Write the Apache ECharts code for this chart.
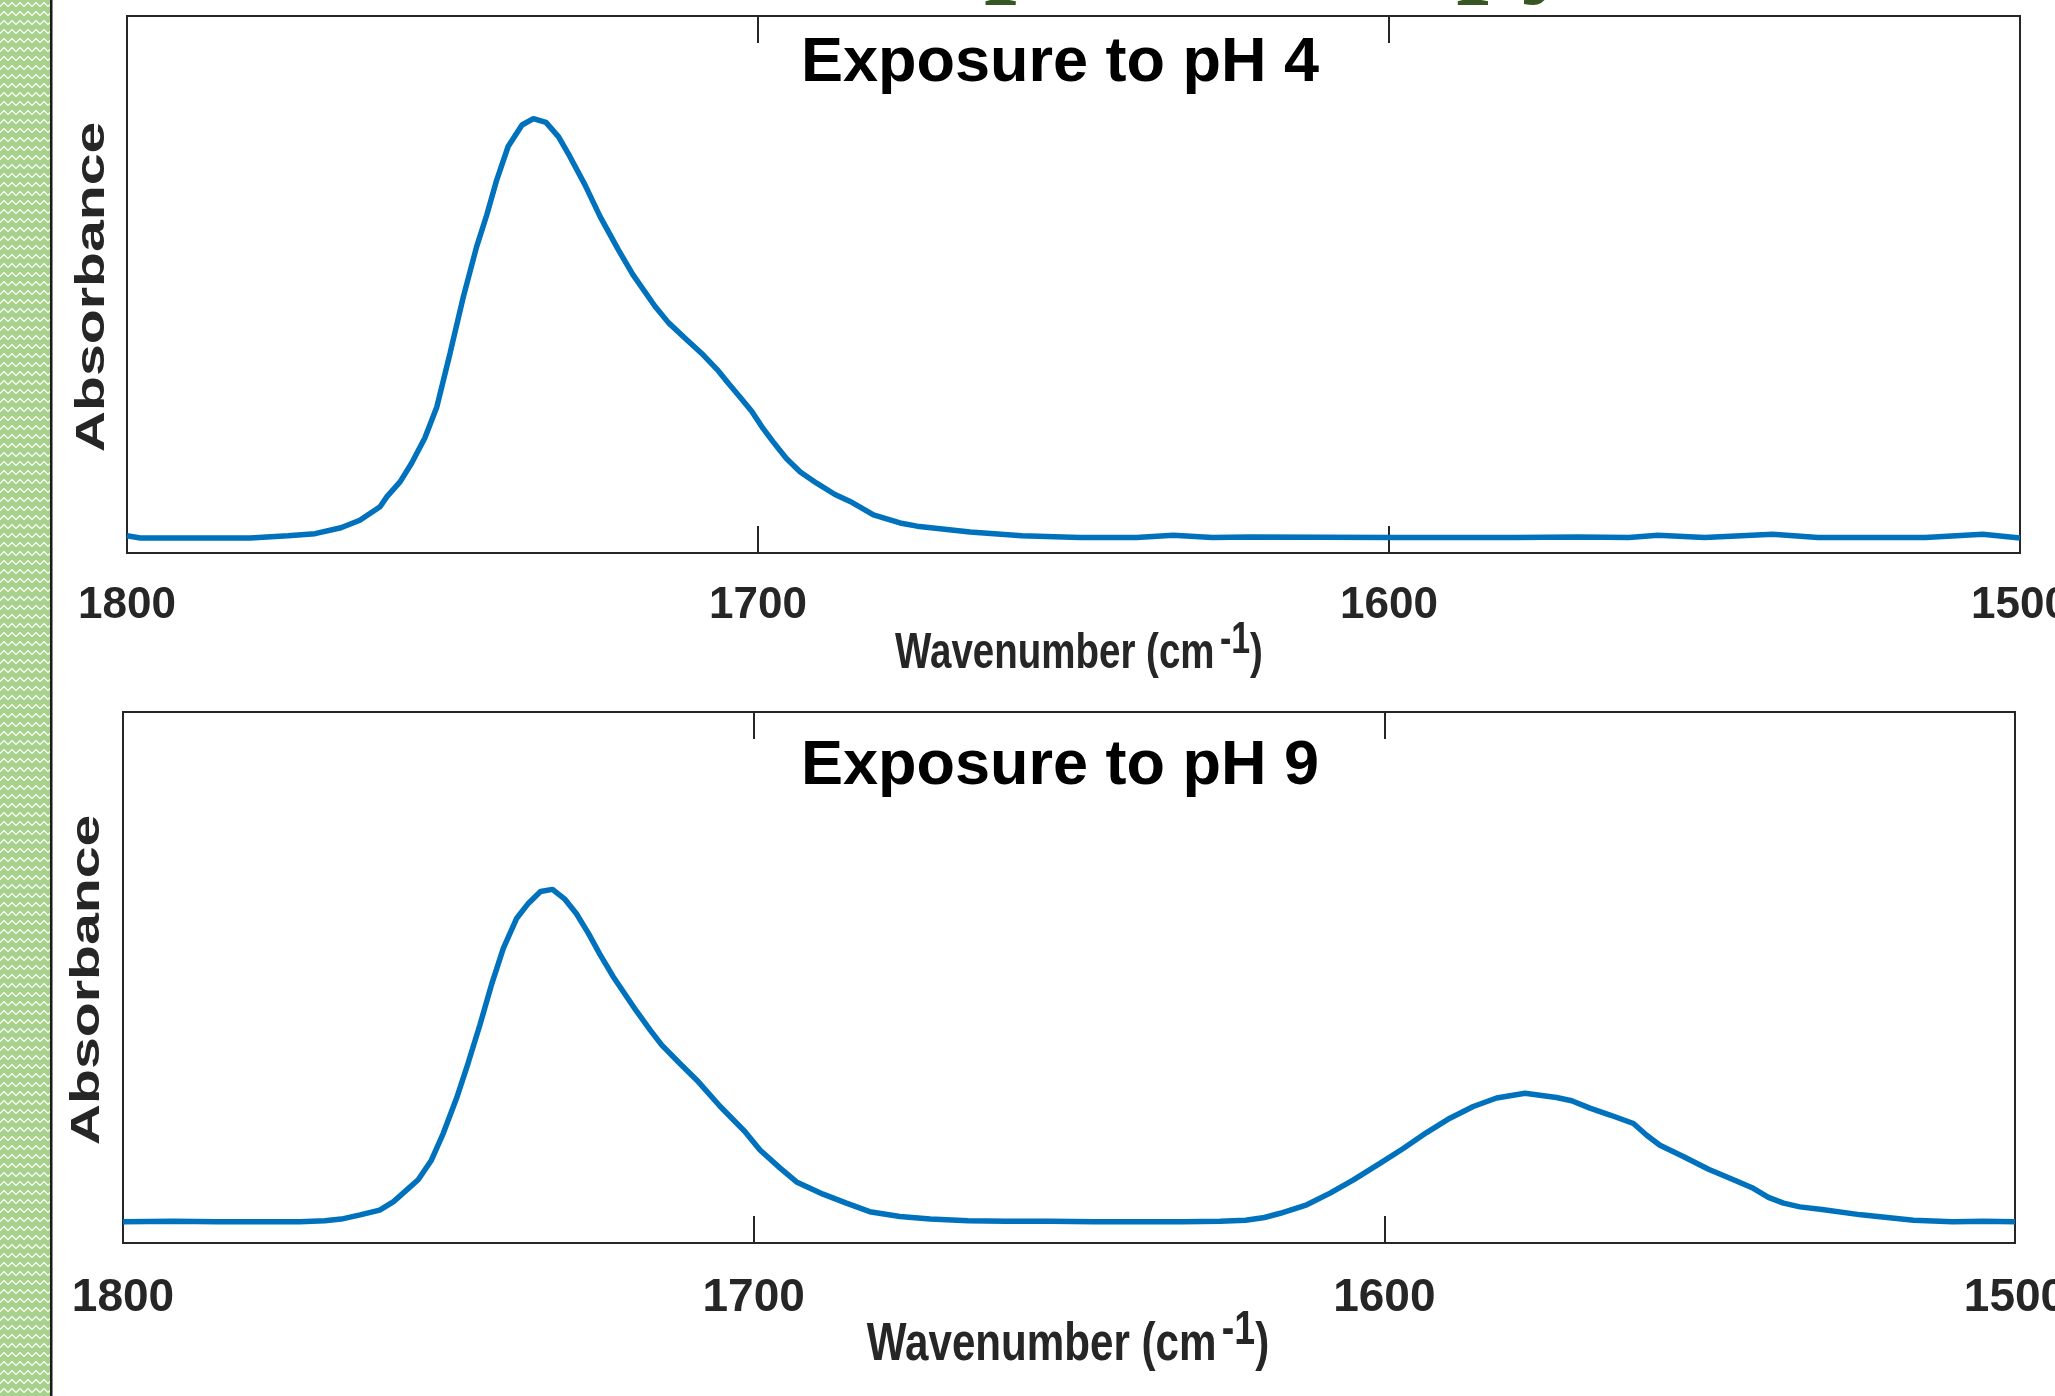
<!DOCTYPE html>
<html>
<head>
<meta charset="utf-8">
<script src="https://cdn.jsdelivr.net/npm/echarts@6/dist/echarts.min.js"></script>
<style>
html,body{margin:0;padding:0;background:#fff;overflow:hidden}
#chart{width:2055px;height:1396px}
</style>
</head>
<body>
<div id="chart"></div>
<script>
// ---------- data ----------
const xTickValues = [1800, 1700, 1600, 1500];
const panelTitles = ['Exposure to pH 4', 'Exposure to pH 9'];
const xAxisNameParts = ['Wavenumber (cm', '-1', ')'];
const yAxisName = 'Absorbance';
const slideHeadingFragment = 'Spectroscopy,';

const ph4Wavenumber = [1800, 1797.9, 1788.4, 1780.5, 1774.5, 1770.2, 1766.1, 1763.1, 1759.9, 1758.8,
  1756.7, 1754.9, 1752.8, 1750.9, 1748.8, 1746.7, 1744.6, 1743.0, 1741.4, 1739.6,
  1737.4, 1735.6, 1733.6, 1731.6, 1729.8, 1727.4, 1725.0, 1722.1, 1719.8, 1716.3,
  1714.2, 1711.3, 1708.7, 1706.5, 1704.7, 1702.9, 1701.0, 1699.2, 1697.6, 1695.5,
  1693.3, 1690.7, 1687.8, 1685.4, 1681.7, 1677.5, 1674.8, 1666.4, 1658.2, 1649,
  1640, 1634.2, 1628, 1622, 1600, 1580, 1570, 1562, 1557.4, 1550,
  1539.2, 1532, 1515, 1505.9, 1500];
const ph4Absorbance = [0.032, 0.028, 0.028, 0.028, 0.032, 0.036, 0.047, 0.061, 0.086, 0.105,
  0.133, 0.167, 0.214, 0.272, 0.372, 0.477, 0.570, 0.629, 0.695, 0.757,
  0.797, 0.809, 0.802, 0.775, 0.738, 0.685, 0.626, 0.564, 0.518, 0.459,
  0.429, 0.397, 0.369, 0.342, 0.316, 0.291, 0.264, 0.232, 0.207, 0.176,
  0.151, 0.130, 0.109, 0.096, 0.071, 0.056, 0.050, 0.039, 0.032, 0.029,
  0.029, 0.033, 0.029, 0.030, 0.029, 0.029, 0.030, 0.029, 0.033, 0.029,
  0.035, 0.029, 0.029, 0.035, 0.028];

const ph9Wavenumber = [1800, 1792, 1785, 1778, 1772, 1768, 1765.4, 1762.4, 1759.3, 1757.1,
  1755.0, 1753.2, 1751.1, 1749.2, 1747.1, 1745.3, 1743.4, 1741.5, 1739.7, 1737.6,
  1735.7, 1733.8, 1731.9, 1729.9, 1728.1, 1726.2, 1724.4, 1722.3, 1718.6, 1716.4,
  1714.6, 1711.7, 1708.8, 1705.3, 1701.4, 1699.0, 1695.8, 1693.2, 1689.0, 1685.3,
  1681.6, 1676.8, 1672, 1666, 1660, 1653, 1646, 1640, 1632, 1626,
  1622, 1619, 1616.5, 1612.3, 1608.6, 1604.9, 1600.7, 1597.0, 1593.3, 1589.6,
  1585.9, 1582.2, 1577.7, 1572.7, 1570.3, 1567.4, 1564.2, 1560.5, 1558.4, 1556.3,
  1552.6, 1548.6, 1545.2, 1541.5, 1539.1, 1536.7, 1534.1, 1530.6, 1524.4, 1516.1,
  1509.9, 1505, 1500];
const ph9Absorbance = [0.040, 0.041, 0.040, 0.040, 0.040, 0.042, 0.045, 0.053, 0.062, 0.078,
  0.100, 0.119, 0.156, 0.207, 0.273, 0.338, 0.411, 0.489, 0.555, 0.611,
  0.640, 0.662, 0.666, 0.647, 0.620, 0.583, 0.544, 0.502, 0.437, 0.401,
  0.373, 0.338, 0.304, 0.257, 0.210, 0.175, 0.141, 0.115, 0.092, 0.075,
  0.059, 0.050, 0.045, 0.042, 0.041, 0.041, 0.040, 0.040, 0.040, 0.041,
  0.043, 0.048, 0.056, 0.072, 0.094, 0.119, 0.150, 0.178, 0.208, 0.235,
  0.257, 0.273, 0.282, 0.274, 0.268, 0.254, 0.241, 0.225, 0.203, 0.184,
  0.163, 0.139, 0.122, 0.103, 0.086, 0.075, 0.068, 0.063, 0.053, 0.043,
  0.040, 0.041, 0.040];

// ---------- styling ----------
const AXIS_COLOR = '#262626';
const LINE_COLOR = '#0072BD';
const SANS = '"Liberation Sans", Arial, sans-serif';

const xMin = Math.min(...xTickValues);
const xMax = Math.max(...xTickValues);
const xStep = Math.abs(xTickValues[0] - xTickValues[1]);

// pattern tile for the decorative left strip
const tile = document.createElement('canvas');
tile.width = 8; tile.height = 9;
const tc = tile.getContext('2d');
tc.fillStyle = '#a9d18e';
tc.fillRect(0, 0, 8, 9);
tc.strokeStyle = '#ffffff';
tc.lineWidth = 1.1;
tc.beginPath();
tc.moveTo(0, 6.5); tc.lineTo(4, 2.5); tc.lineTo(8, 6.5);
tc.stroke();

const grids = [
  {left: 127, top: 16, width: 1893, height: 537},
  {left: 123, top: 712, width: 1892, height: 531}
];
const tickFont = [44, 46];
const labelMargins = [31, 32];
const titleTops = [32, 735];
const yNamePos = [[93, 287], [88, 980]];
// x-axis name: [centre x, centre y of main text, font size, horizontal squeeze]
const xNameLayout = [[1079, 654, 50, 0.77], [1068, 1345, 54, 0.78]];

function bottomAxis(g) {
  return {
    gridIndex: g, type: 'value', min: xMin, max: xMax, interval: xStep, inverse: true,
    position: 'bottom',
    axisLine: {show: false},
    axisTick: {show: true, inside: true, length: 27, lineStyle: {color: AXIS_COLOR, width: 2}},
    splitLine: {show: false},
    axisLabel: {
      margin: labelMargins[g], fontFamily: SANS, fontWeight: 'bold', fontSize: tickFont[g], color: AXIS_COLOR,
      formatter: v => String(v)
    }
  };
}
function topAxis(g) {
  return {
    gridIndex: g, type: 'value', min: xMin, max: xMax, interval: xStep, inverse: true,
    position: 'top',
    axisLine: {show: false},
    axisTick: {show: true, inside: true, length: 27, lineStyle: {color: AXIS_COLOR, width: 2}},
    splitLine: {show: false},
    axisLabel: {show: false}
  };
}

function xNameGraphic(L) {
  const fs = L[2];
  const supFs = Math.round(fs * 0.88);
  const pad = Math.round(fs * 0.32);
  const lineH = Math.max(fs, supFs + pad);
  const centreY = L[1] - (lineH / 2 - fs / 2);
  return {
    type: 'text', silent: true, x: L[0], y: centreY, scaleX: L[3],
    style: {
      text: '{m|' + xAxisNameParts[0] + '}{s|' + xAxisNameParts[1] + '}{m|' + xAxisNameParts[2] + '}',
      align: 'center', verticalAlign: 'middle',
      rich: {
        m: {fontFamily: SANS, fontWeight: 'bold', fontSize: fs, fill: AXIS_COLOR, verticalAlign: 'bottom'},
        s: {fontFamily: SANS, fontWeight: 'bold', fontSize: supFs, fill: AXIS_COLOR, verticalAlign: 'bottom', padding: [0, 0, pad, 7]}
      }
    }
  };
}

const chart = echarts.init(document.getElementById('chart'), null, {renderer: 'canvas'});
chart.setOption({
  animation: false,
  backgroundColor: '#ffffff',
  title: panelTitles.map((t, i) => ({
    text: t, left: 801, top: titleTops[i], padding: 0,
    textStyle: {fontFamily: SANS, fontWeight: 'bold', fontSize: 63, color: '#000000'}
  })),
  grid: grids.map(g => Object.assign({
    show: true, borderColor: AXIS_COLOR, borderWidth: 2, backgroundColor: 'rgba(0,0,0,0)',
    containLabel: false, outerBoundsMode: 'none'
  }, g)),
  xAxis: [bottomAxis(0), topAxis(0), bottomAxis(1), topAxis(1)],
  yAxis: [
    {gridIndex: 0, type: 'value', min: 0, max: 1, show: false},
    {gridIndex: 1, type: 'value', min: 0, max: 1, show: false}
  ],
  series: [
    {
      type: 'line', xAxisIndex: 0, yAxisIndex: 0, symbol: 'none', showSymbol: false,
      data: ph4Wavenumber.map((w, i) => [w, ph4Absorbance[i]]),
      lineStyle: {color: LINE_COLOR, width: 5.5}, silent: true
    },
    {
      type: 'line', xAxisIndex: 2, yAxisIndex: 1, symbol: 'none', showSymbol: false,
      data: ph9Wavenumber.map((w, i) => [w, ph9Absorbance[i]]),
      lineStyle: {color: LINE_COLOR, width: 5.5}, silent: true
    }
  ],
  graphic: [
    {type: 'rect', silent: true, shape: {x: 0, y: 0, width: 50, height: 1396},
      style: {fill: {image: tile, repeat: 'repeat'}}},
    {type: 'rect', silent: true, shape: {x: 50, y: 0, width: 2.5, height: 1396}, style: {fill: '#1a1a1a'}},
    {type: 'text', silent: true, x: 919, y: -50,
      style: {text: slideHeadingFragment, fontFamily: '"Liberation Serif", "Times New Roman", serif', fontWeight: 'bold', fontSize: 117, fill: '#375623', verticalAlign: 'middle', align: 'left'}},
    ...yNamePos.map(p => ({
      type: 'text', silent: true, x: p[0], y: p[1], rotation: Math.PI / 2, scaleX: 1.43,
      style: {text: yAxisName, fontFamily: SANS, fontWeight: 'bold', fontSize: 40, fill: AXIS_COLOR, align: 'center', verticalAlign: 'middle'}
    })),
    ...xNameLayout.map(xNameGraphic)
  ]
});
</script>
</body>
</html>
